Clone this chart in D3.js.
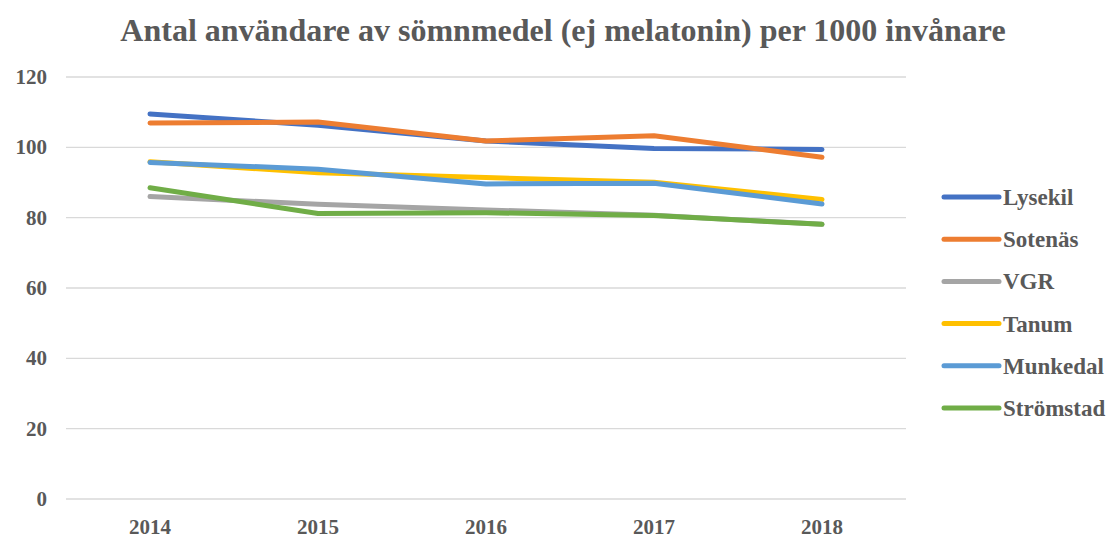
<!DOCTYPE html>
<html>
<head>
  <meta charset="utf-8">
  <script src="https://d3js.org/d3.v7.min.js"></script>
  <style>
    body { margin: 0; background: #fff; }
    text { font-family: "Liberation Serif", "Times New Roman", serif; font-weight: bold; fill: #595959; }
  </style>
</head>
<body>
<div id="chart"></div>
<script>
    var width = 1111;
    var height = 538;

    var years = ["2014", "2015", "2016", "2017", "2018"];
    var seriesNames = ["Lysekil", "Sotenäs", "VGR", "Tanum", "Munkedal", "Strömstad"];
    var seriesColors = ["#4472c4", "#ed7d31", "#a5a5a5", "#ffc000", "#5b9bd5", "#70ad47"];
    var lysekil = [109.5, 106.3, 101.8, 99.7, 99.4];
    var sotenas = [106.9, 107.2, 101.8, 103.3, 97.2];
    var vgr = [86.0, 83.8, 82.2, 80.7, 78.1];
    var tanum = [95.9, 92.8, 91.4, 90.1, 85.2];
    var munkedal = [95.7, 93.8, 89.6, 89.8, 83.9];
    var stromstad = [88.5, 81.2, 81.4, 80.6, 78.1];
    var yTicks = [0, 20, 40, 60, 80, 100, 120];

    var allValues = [lysekil, sotenas, vgr, tanum, munkedal, stromstad];

    // plot area edges
    var plotLeft = 66, plotRight = 906, plotTop = 77, plotBottom = 499;

    var x = d3.scaleBand().domain(years).range([plotLeft, plotRight]);
    var y = d3.scaleLinear().domain([0, 120]).range([plotBottom, plotTop]);

    var svg = d3.select("#chart").append("svg")
                .attr("width", width)
                .attr("height", height);

    svg.append("text")
       .attr("x", 563).attr("y", 41)
       .attr("text-anchor", "middle")
       .style("font-size", "32px")
       .text("Antal användare av sömnmedel (ej melatonin) per 1000 invånare");

    // gridlines
    svg.append("g").selectAll("line").data(yTicks).enter().append("line")
       .attr("x1", plotLeft).attr("x2", plotRight)
       .attr("y1", function(d) { return y(d); })
       .attr("y2", function(d) { return y(d); })
       .attr("stroke", "#d9d9d9").attr("stroke-width", 1.3);

    svg.append("g").selectAll("text").data(yTicks).enter().append("text")
       .attr("x", 47)
       .attr("y", function(d) { return y(d) + 7; })
       .attr("text-anchor", "end")
       .style("font-size", "21px")
       .text(function(d) { return d; });

    svg.append("g").selectAll("text").data(years).enter().append("text")
       .attr("x", function(d) { return x(d) + x.bandwidth() / 2; })
       .attr("y", 534)
       .attr("text-anchor", "middle")
       .style("font-size", "21px")
       .text(function(d) { return d; });

    var line = d3.line()
       .x(function(d, i) { return x(years[i]) + x.bandwidth() / 2; })
       .y(function(d) { return y(d); });

    allValues.forEach(function(vals, k) {
      svg.append("path")
         .attr("d", line(vals))
         .attr("fill", "none")
         .attr("stroke", seriesColors[k])
         .attr("stroke-width", 5)
         .attr("stroke-linecap", "round")
         .attr("stroke-linejoin", "round");
    });

    // legend
    var legend = svg.append("g").selectAll("g").data(seriesNames).enter().append("g")
       .attr("transform", function(d, i) { return "translate(944," + (197 + i * 42.2) + ")"; });
    legend.append("line")
       .attr("x1", 0).attr("x2", 55)
       .attr("stroke", function(d, i) { return seriesColors[i]; })
       .attr("stroke-width", 5)
       .attr("stroke-linecap", "round");
    legend.append("text")
       .attr("x", 59).attr("y", 8)
       .style("font-size", "23px")
       .text(function(d) { return d; });
</script>
</body>
</html>
